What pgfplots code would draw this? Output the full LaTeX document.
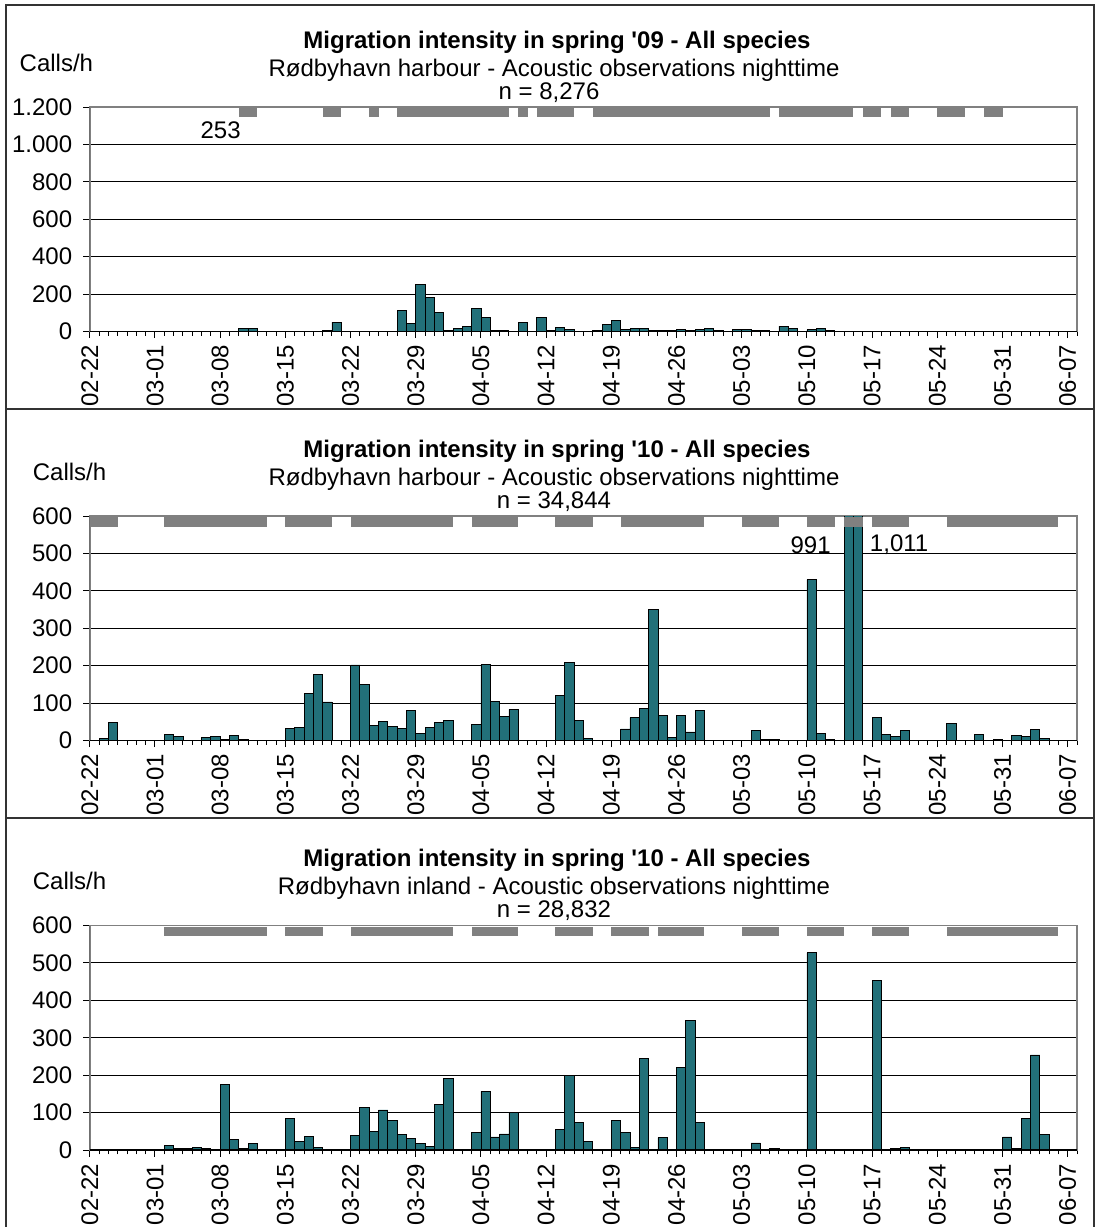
\documentclass[border=0pt]{standalone}
\usepackage{fontspec}
\setmainfont{Liberation Sans}
\usepackage{pgfplots}
\usepackage{pgfplotstable}
\pgfplotsset{compat=1.18}
\definecolor{barteal}{RGB}{34,112,121}
\definecolor{flaggray}{RGB}{128,128,128}

% day index (0 = 02-22) and calls/h
\pgfplotstableread{
d v
16 15
17 15
25 5
26 50
30 2
33 113
34 45
35 253
36 180
37 101
38 8
39 16
40 27
41 122
42 75
43 8
44 5
46 50
48 74
49 5
50 21
51 11
54 5
55 39
56 61
57 12
58 14
59 18
60 7
61 7
62 4
63 12
64 5
65 12
66 18
67 7
68 2
69 12
70 12
71 7
72 5
74 29
75 16
76 2
77 9
78 18
79 7
80 2
81 1
82 1
84 1
85 1
87 2
88 2
92 2
93 2
94 2
97 2
98 2
}\harbourNine

\pgfplotstableread{
d v
1 5
2 49
8 16
9 11.5
10 1
11 1
12 7
13 10.6
14 3.5
15 13
16 2.7
17 1
21 32
22 35
23 125
24 176
25 103
28 202
29 149
30 40
31 51
32 37
33 32
34 81
35 19.5
36 35
37 49
38 53
41 43
42 203
43 104
44 65
45 83
50 121
51 209
52 54
53 5
57 31
58 61
59 85
60 350
61 66
62 7
63 66
64 23
65 80
71 27
72 3.5
73 2.7
77 430
78 18
79 3
81 991
82 1011
84 62
85 17
86 10.6
87 27
92 45
93 1
95 15
97 2
99 14
100 11.5
101 29
102 5
}\harbourTen

\pgfplotstableread{
d v
8 12
9 3
10 4.5
11 7
12 3
14 176
15 28
16 5
17 18.6
21 84
22 22
23 36
24 8
28 39
29 114
30 49
31 107
32 80
33 42
34 30
35 17
36 10
37 121.5
38 191.5
41 48
42 157
43 35
44 43
45 100
50 55
51 199
52 74
53 23
56 78
57 46
58 8
59 244
61 33
62 2
63 221
64 347
65 73
71 19
72 1
73 5
77 527
84 454
85 2
86 3.5
87 7
93 2
95 2
98 35
99 3.5
100 85
101 254
102 42
}\inlandTen

\pgfplotsset{
  migr/.style={
    scale only axis,
    width=493.6bp, height=112.25bp,
    xmin=0, xmax=106, ymin=0,
    axis line style={draw=flaggray, line width=0.9bp},
    xtick={0,7,...,105},
    xticklabels={02-22,03-01,03-08,03-15,03-22,03-29,04-05,04-12,04-19,04-26,05-03,05-10,05-17,05-24,05-31,06-07},
    minor xtick={0,1,...,106},
    xtick pos=left, ytick pos=left,
    tick align=outside,
    major tick length=3.3bp, minor tick length=2.2bp,
    every tick/.style={black, line width=0.5bp},
    xticklabel style={rotate=90, anchor=east, font=\fontsize{12bp}{14bp}\selectfont},
    yticklabel style={font=\fontsize{12bp}{14bp}\selectfont, xshift=-2bp},
    ymajorgrids, grid style={black, line width=0.5bp},
  },
  bars/.style={ybar, bar width=1, bar shift=0, fill=barteal, draw=black, line width=0.4bp},
  flag/.style={fill=flaggray, draw=none, forget plot},
}
\tikzset{txt/.style={inner sep=0pt, font=\fontsize{12bp}{14bp}\selectfont},
         ttl/.style={inner sep=0pt, font=\bfseries\fontsize{12bp}{14bp}\selectfont}}

\begin{document}
\begin{tikzpicture}
\useasboundingbox (0,0) rectangle (548bp,-613.5bp);
% panel frames
\draw[black!80, line width=0.6bp] (3bp,-613.5bp) -- (3bp,-2.5bp) -- (547bp,-2.5bp) -- (547bp,-613.5bp);
\draw[black!80, line width=0.6bp] (3bp,-204.5bp) -- (547bp,-204.5bp);
\draw[black!80, line width=0.6bp] (3bp,-409bp) -- (547bp,-409bp);

% ---------------- Panel 1 ----------------
\node[ttl, anchor=base] at (278.5bp,-24.15bp) {Migration intensity in spring \textquotesingle 09 - All species};
\node[txt, anchor=base] at (277bp,-38bp) {Rødbyhavn harbour - Acoustic observations nighttime};
\node[txt, anchor=base] at (274.5bp,-49.5bp) {n = 8,276};
\node[txt, anchor=base west] at (9.65bp,-35.5bp) {Calls/h};
\begin{axis}[migr, at={(44.9bp,-165.75bp)}, anchor=south west,
  ymax=1200, ytick={0,200,...,1200}, yticklabels={0,200,400,600,800,1.000,1.200}]
\addplot[bars] table[x expr=\thisrow{d}+0.5, y=v] {\harbourNine};
\addplot[flag] coordinates {(16,1197) (18,1197) (18,1147) (16,1147)} -- cycle;
\addplot[flag] coordinates {(25,1197) (27,1197) (27,1147) (25,1147)} -- cycle;
\addplot[flag] coordinates {(30,1197) (31,1197) (31,1147) (30,1147)} -- cycle;
\addplot[flag] coordinates {(33,1197) (45,1197) (45,1147) (33,1147)} -- cycle;
\addplot[flag] coordinates {(46,1197) (47,1197) (47,1147) (46,1147)} -- cycle;
\addplot[flag] coordinates {(48,1197) (52,1197) (52,1147) (48,1147)} -- cycle;
\addplot[flag] coordinates {(54,1197) (73,1197) (73,1147) (54,1147)} -- cycle;
\addplot[flag] coordinates {(74,1197) (82,1197) (82,1147) (74,1147)} -- cycle;
\addplot[flag] coordinates {(83,1197) (85,1197) (85,1147) (83,1147)} -- cycle;
\addplot[flag] coordinates {(86,1197) (88,1197) (88,1147) (86,1147)} -- cycle;
\addplot[flag] coordinates {(91,1197) (94,1197) (94,1147) (91,1147)} -- cycle;
\addplot[flag] coordinates {(96,1197) (98,1197) (98,1147) (96,1147)} -- cycle;
\node[txt] at (axis cs:14.05,1074) {253};
\draw[black, line width=0.6bp] (rel axis cs:0,1) -- (rel axis cs:0,0) -- (rel axis cs:1,0);
\end{axis}

% ---------------- Panel 2 ----------------
\node[ttl, anchor=base] at (278.5bp,-228.65bp) {Migration intensity in spring \textquotesingle 10 - All species};
\node[txt, anchor=base] at (277bp,-242.5bp) {Rødbyhavn harbour - Acoustic observations nighttime};
\node[txt, anchor=base] at (277bp,-254bp) {n = 34,844};
\node[txt, anchor=base west] at (16.25bp,-240bp) {Calls/h};
\begin{axis}[migr, at={(44.9bp,-370.25bp)}, anchor=south west,
  ymax=600, ytick={0,100,...,600}, yticklabels={0,100,200,300,400,500,600}]
\addplot[bars] table[x expr=\thisrow{d}+0.5, y=v] {\harbourTen};
\addplot[flag] coordinates {(0,597) (3,597) (3,571) (0,571)} -- cycle;
\addplot[flag] coordinates {(8,597) (19,597) (19,571) (8,571)} -- cycle;
\addplot[flag] coordinates {(21,597) (26,597) (26,571) (21,571)} -- cycle;
\addplot[flag] coordinates {(28,597) (39,597) (39,571) (28,571)} -- cycle;
\addplot[flag] coordinates {(41,597) (46,597) (46,571) (41,571)} -- cycle;
\addplot[flag] coordinates {(50,597) (54,597) (54,571) (50,571)} -- cycle;
\addplot[flag] coordinates {(57,597) (66,597) (66,571) (57,571)} -- cycle;
\addplot[flag] coordinates {(70,597) (74,597) (74,571) (70,571)} -- cycle;
\addplot[flag] coordinates {(77,597) (80,597) (80,571) (77,571)} -- cycle;
\addplot[flag] coordinates {(81,597) (83,597) (83,571) (81,571)} -- cycle;
\addplot[flag] coordinates {(84,597) (88,597) (88,571) (84,571)} -- cycle;
\addplot[flag] coordinates {(92,597) (104,597) (104,571) (92,571)} -- cycle;
\node[txt] at (axis cs:77.4,523) {991};
\node[txt] at (axis cs:86.9,523) {1,011};
\draw[black, line width=0.6bp] (rel axis cs:0,1) -- (rel axis cs:0,0) -- (rel axis cs:1,0);
\end{axis}

% ---------------- Panel 3 ----------------
\node[ttl, anchor=base] at (278.5bp,-433.4bp) {Migration intensity in spring \textquotesingle 10 - All species};
\node[txt, anchor=base] at (277bp,-447.25bp) {Rødbyhavn inland - Acoustic observations nighttime};
\node[txt, anchor=base] at (277bp,-458.75bp) {n = 28,832};
\node[txt, anchor=base west] at (16.25bp,-444.75bp) {Calls/h};
\begin{axis}[migr, at={(44.9bp,-575bp)}, anchor=south west,
  ymax=600, ytick={0,100,...,600}, yticklabels={0,100,200,300,400,500,600}]
\addplot[bars] table[x expr=\thisrow{d}+0.5, y=v] {\inlandTen};
\addplot[flag] coordinates {(8,597) (19,597) (19,571) (8,571)} -- cycle;
\addplot[flag] coordinates {(21,597) (25,597) (25,571) (21,571)} -- cycle;
\addplot[flag] coordinates {(28,597) (39,597) (39,571) (28,571)} -- cycle;
\addplot[flag] coordinates {(41,597) (46,597) (46,571) (41,571)} -- cycle;
\addplot[flag] coordinates {(50,597) (54,597) (54,571) (50,571)} -- cycle;
\addplot[flag] coordinates {(56,597) (60,597) (60,571) (56,571)} -- cycle;
\addplot[flag] coordinates {(61,597) (66,597) (66,571) (61,571)} -- cycle;
\addplot[flag] coordinates {(70,597) (74,597) (74,571) (70,571)} -- cycle;
\addplot[flag] coordinates {(77,597) (81,597) (81,571) (77,571)} -- cycle;
\addplot[flag] coordinates {(84,597) (88,597) (88,571) (84,571)} -- cycle;
\addplot[flag] coordinates {(92,597) (104,597) (104,571) (92,571)} -- cycle;
\draw[black, line width=0.6bp] (rel axis cs:0,1) -- (rel axis cs:0,0) -- (rel axis cs:1,0);
\end{axis}
\end{tikzpicture}
\end{document}
